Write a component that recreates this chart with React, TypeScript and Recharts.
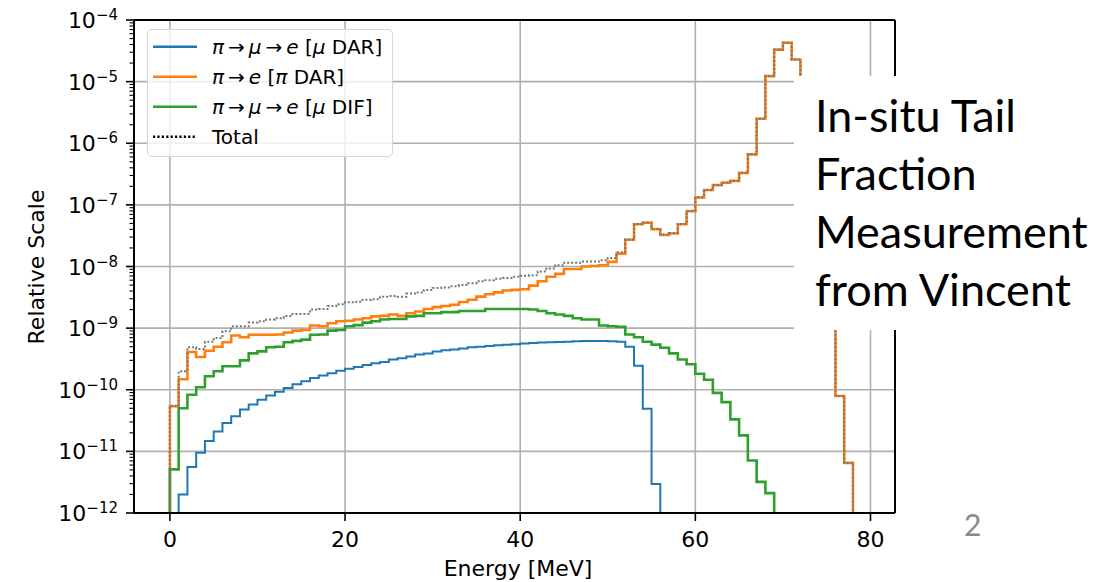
import React from 'react'
import {
  LineChart,
  Line,
  XAxis,
  YAxis,
  CartesianGrid,
  ReferenceLine
} from 'recharts'

// value used for empty bins (below the axis, clipped away)
const FLOOR = 1e-14

// bin values, 1 MeV bins, first bin starts at *_START MeV
const BLUE_START = 1
const blueDar = [
  2.0e-12, 5.6e-12, 9.5e-12, 1.48e-11, 2.1e-11, 2.9e-11, 3.7e-11, 4.8e-11, 5.75e-11, 6.9e-11,
  8.1e-11, 9.3e-11, 1.07e-10, 1.23e-10, 1.38e-10, 1.55e-10, 1.7e-10, 1.86e-10, 2.04e-10, 2.19e-10,
  2.34e-10, 2.51e-10, 2.69e-10, 2.82e-10, 3.09e-10, 3.24e-10, 3.47e-10, 3.72e-10, 3.89e-10, 4.17e-10,
  4.37e-10, 4.52e-10, 4.68e-10, 4.9e-10, 5.0e-10, 5.13e-10, 5.25e-10, 5.37e-10, 5.5e-10, 5.62e-10,
  5.75e-10, 5.82e-10, 5.89e-10, 5.96e-10, 6.03e-10, 6.1e-10, 6.17e-10, 6.17e-10, 6.17e-10, 6.1e-10,
  6.03e-10, 5.0e-10, 2.45e-10, 4.9e-11, 2.95e-12
]

const ORANGE_START = 0
const orangeDar = [
  5.4e-11, 1.48e-10, 4.1e-10, 3.4e-10, 4.3e-10, 5.0e-10, 5.9e-10, 7.6e-10, 7.1e-10, 7.8e-10,
  7.8e-10, 7.8e-10, 7.9e-10, 8.5e-10, 9.1e-10, 9.3e-10, 1.1e-9, 1.07e-9, 1.2e-9, 1.29e-9,
  1.32e-9, 1.38e-9, 1.45e-9, 1.55e-9, 1.58e-9, 1.66e-9, 1.58e-9, 1.74e-9, 1.86e-9, 2.04e-9,
  2.19e-9, 2.29e-9, 2.4e-9, 2.66e-9, 2.88e-9, 3.24e-9, 3.55e-9, 3.8e-9, 4.07e-9, 4.17e-9,
  4.27e-9, 4.9e-9, 5.75e-9, 6.8e-9, 7.6e-9, 9.1e-9, 9.1e-9, 1.0e-8, 1.02e-8, 1.05e-8,
  1.19e-8, 1.62e-8, 2.72e-8, 4.84e-8, 5.13e-8, 4.03e-8, 3.24e-8, 3.43e-8, 4.84e-8, 7.9e-8,
  1.32e-7, 1.74e-7, 2.09e-7, 2.29e-7, 2.45e-7, 3.3e-7, 6.6e-7, 2.5e-6, 1.23e-5, 3.3e-5,
  4.27e-5, 2.29e-5, 1.5e-6, 1.2e-7, 1.5e-8, 3.0e-9, 7.9e-11, 6.5e-12
]

const GREEN_START = 0
const greenDif = [
  5.1e-12, 5.0e-11, 8.3e-11, 1.1e-10, 1.66e-10, 2.0e-10, 2.4e-10, 2.4e-10, 3.0e-10, 3.9e-10,
  4.2e-10, 4.9e-10, 5.0e-10, 5.9e-10, 6.2e-10, 6.5e-10, 7.8e-10, 7.9e-10, 9.1e-10, 9.3e-10,
  1.07e-9, 1.12e-9, 1.23e-9, 1.29e-9, 1.38e-9, 1.41e-9, 1.41e-9, 1.55e-9, 1.58e-9, 1.74e-9,
  1.74e-9, 1.82e-9, 1.82e-9, 1.9e-9, 1.9e-9, 1.9e-9, 2.04e-9, 2.04e-9, 2.04e-9, 2.04e-9,
  2.04e-9, 2.0e-9, 1.9e-9, 1.74e-9, 1.66e-9, 1.58e-9, 1.45e-9, 1.38e-9, 1.38e-9, 1.1e-9,
  1.07e-9, 1.05e-9, 7.9e-10, 7.1e-10, 6.0e-10, 5.4e-10, 4.8e-10, 3.9e-10, 3.1e-10, 2.6e-10,
  1.82e-10, 1.45e-10, 8.9e-11, 6.3e-11, 3.3e-11, 1.82e-11, 7.1e-12, 3.2e-12, 2.1e-12
]

const TOTAL_START = 0
const totalVals = [
  5.5e-11, 2.0e-10, 4.9e-10, 4.6e-10, 6.0e-10, 6.9e-10, 8.9e-10, 1.07e-9, 1.07e-9, 1.23e-9,
  1.29e-9, 1.38e-9, 1.45e-9, 1.58e-9, 1.7e-9, 1.7e-9, 2.0e-9, 2.04e-9, 2.29e-9, 2.45e-9,
  2.63e-9, 2.69e-9, 2.88e-9, 2.95e-9, 3.24e-9, 3.31e-9, 3.24e-9, 3.63e-9, 3.8e-9, 4.17e-9,
  4.47e-9, 4.57e-9, 4.79e-9, 5.0e-9, 5.37e-9, 5.75e-9, 6.0e-9, 6.3e-9, 6.5e-9, 6.8e-9,
  7.1e-9, 7.2e-9, 8.3e-9, 9.3e-9, 1.05e-8, 1.15e-8, 1.15e-8, 1.2e-8, 1.2e-8, 1.26e-8,
  1.38e-8, 1.7e-8, 2.75e-8, 4.9e-8, 5.2e-8, 4.1e-8, 3.3e-8, 3.5e-8, 4.9e-8, 8.0e-8,
  1.33e-7, 1.75e-7, 2.1e-7, 2.3e-7, 2.45e-7, 3.3e-7, 6.6e-7, 2.5e-6, 1.23e-5, 3.3e-5,
  4.27e-5, 2.29e-5, 1.5e-6, 1.2e-7, 1.5e-8, 3.0e-9, 7.9e-11, 6.5e-12
]

const xTicks = [0, 20, 40, 60, 80]
const decades = [1e-12, 1e-11, 1e-10, 1e-9, 1e-8, 1e-7, 1e-6, 1e-5, 1e-4]
const minorSteps = [2, 3, 4, 5, 6, 7, 8, 9]
const yTicks = [
  ...decades,
  ...decades.slice(0, -1).flatMap((d) => minorSteps.map((k) => k * d))
]

const binValue = (vals: number[], start: number, e: number) =>
  e >= start && e < start + vals.length ? vals[e - start] : FLOOR

// bin edges from -1 to 79 MeV, each point holds the bin starting at that edge
const edges = Array.from({ length: 81 }, (_, i) => i - 1)
const data = edges.map((e) => ({
  e,
  blue: binValue(blueDar, BLUE_START, e),
  orange: binValue(orangeDar, ORANGE_START, e),
  green: binValue(greenDif, GREEN_START, e),
  total: binValue(totalVals, TOTAL_START, e)
}))

const FONT = 'DejaVu Sans'
const AXIS_X = 134

const YTick = (props: any) => {
  const { y, payload } = props
  const p = Math.log10(payload.value)
  const major = Math.abs(p - Math.round(p)) < 1e-6
  return (
    <g>
      <line
        x1={major ? AXIS_X - 8 : AXIS_X - 4.5}
        x2={AXIS_X}
        y1={y}
        y2={y}
        stroke="#000"
        strokeWidth={major ? 1.6 : 1.1}
      />
      {major && (
        <text x={118} y={y + 8} textAnchor="end" fontFamily={FONT} fill="#000">
          <tspan fontSize={22}>10</tspan>
          <tspan fontSize={15} dy={-8}>{'\u2212' + Math.abs(Math.round(p))}</tspan>
        </text>
      )}
    </g>
  )
}

const XTick = (props: any) => {
  const { x, y, payload } = props
  return (
    <text x={x} y={y + 24} textAnchor="middle" fontFamily={FONT} fontSize={22} fill="#000">
      {payload.value}
    </text>
  )
}

const XTitle = () => (
  <text x={518} y={576} textAnchor="middle" fontFamily={FONT} fontSize={22} fill="#000">
    Energy [MeV]
  </text>
)

const YTitle = () => (
  <text
    transform="translate(44,267) rotate(-90)"
    textAnchor="middle"
    fontFamily={FONT}
    fontSize={22}
    fill="#000"
  >
    Relative Scale
  </text>
)

const ARROW = '\u2009\u2192\u2009'
const legendItems = [
  { label: ['\u03C0', ARROW, '\u03BC', ARROW, 'e', ' [', '\u03BC', ' DAR]'], color: '#1f77b4', dash: undefined },
  { label: ['\u03C0', ARROW, 'e', ' [', '\u03C0', ' DAR]'], color: '#ff7f0e', dash: undefined },
  { label: ['\u03C0', ARROW, '\u03BC', ARROW, 'e', ' [', '\u03BC', ' DIF]'], color: '#2ca02c', dash: undefined },
  { label: ['Total'], color: '#000', dash: '2.2 2.2' }
]

const isMath = (s: string) => s === '\u03C0' || s === '\u03BC' || s === 'e'

const ChartLegend = () => (
  <div
    style={{
      position: 'absolute',
      left: 147,
      top: 29,
      width: 246,
      height: 128,
      boxSizing: 'border-box',
      border: '1.5px solid #d6d6d6',
      borderRadius: 5,
      background: 'rgba(255,255,255,0.8)'
    }}
  >
    <svg width={246} height={128} style={{ position: 'absolute', left: -1.5, top: -1.5 }}>
      {legendItems.map((item, i) => {
        const cy = 17.7 + i * 30
        return (
          <g key={i}>
            <line
              x1={6}
              x2={50}
              y1={cy}
              y2={cy}
              stroke={item.color}
              strokeWidth={item.dash ? 2.4 : 2.6}
              strokeDasharray={item.dash}
            />
            <text x={65} y={cy + 7} fontFamily={FONT} fontSize={20} fill="#000">
              {item.label.map((s, j) => (
                <tspan key={j} fontStyle={isMath(s) ? 'italic' : 'normal'}>
                  {s}
                </tspan>
              ))}
            </text>
          </g>
        )
      })}
    </svg>
  </div>
)

export default function App() {
  return (
    <div
      style={{
        position: 'absolute',
        left: 0,
        top: 0,
        width: 1105,
        height: 582,
        background: '#fff',
        overflow: 'hidden'
      }}
    >
      <LineChart
        width={1105}
        height={582}
        data={data}
        margin={{ top: 20, right: 210, bottom: 0, left: 0 }}
      >
        <CartesianGrid
          stroke="#b0b0b0"
          strokeWidth={1.6}
          horizontalValues={decades}
          verticalValues={xTicks}
        />
        <XAxis
          dataKey="e"
          type="number"
          domain={[-4.1, 82.8]}
          allowDataOverflow
          ticks={xTicks}
          interval={0}
          height={69}
          tickSize={8}
          tickLine={{ stroke: '#000', strokeWidth: 1.6 }}
          axisLine={{ stroke: '#000', strokeWidth: 2 }}
          tick={<XTick />}
          label={<XTitle />}
        />
        <YAxis
          type="number"
          scale="log"
          domain={[1e-12, 1e-4]}
          allowDataOverflow
          ticks={yTicks}
          interval={0}
          width={AXIS_X}
          tickLine={false}
          axisLine={{ stroke: '#000', strokeWidth: 2 }}
          tick={<YTick />}
          label={<YTitle />}
        />
        <ReferenceLine y={1e-4} stroke="#000" strokeWidth={2} />
        <ReferenceLine x={82.8} stroke="#000" strokeWidth={2} />
        <Line
          type="stepAfter"
          dataKey="blue"
          stroke="#1f77b4"
          strokeWidth={2}
          dot={false}
          isAnimationActive={false}
        />
        <Line
          type="stepAfter"
          dataKey="orange"
          stroke="#ff7f0e"
          strokeWidth={2.6}
          dot={false}
          isAnimationActive={false}
        />
        <Line
          type="stepAfter"
          dataKey="green"
          stroke="#2ca02c"
          strokeWidth={2.6}
          dot={false}
          isAnimationActive={false}
        />
        <Line
          type="stepAfter"
          dataKey="total"
          stroke="#777"
          strokeWidth={2}
          strokeDasharray="2 2"
          dot={false}
          isAnimationActive={false}
        />
      </LineChart>
      <ChartLegend />
      <div
        style={{
          position: 'absolute',
          left: 794,
          top: 76,
          width: 311,
          height: 254,
          background: '#fff',
          boxSizing: 'border-box',
          paddingTop: 10,
          paddingLeft: 21,
          fontFamily: 'Lato',
          fontSize: 45,
          lineHeight: '58px',
          color: '#000',
          whiteSpace: 'nowrap'
        }}
      >
        In-situ Tail
        <br />
        Fraction
        <br />
        Measurement
        <br />
        from Vincent
      </div>
      <div
        style={{
          position: 'absolute',
          left: 964,
          top: 506,
          fontFamily: 'Lato',
          fontSize: 30,
          lineHeight: '36px',
          color: '#8a8a8a'
        }}
      >
        2
      </div>
    </div>
  )
}
